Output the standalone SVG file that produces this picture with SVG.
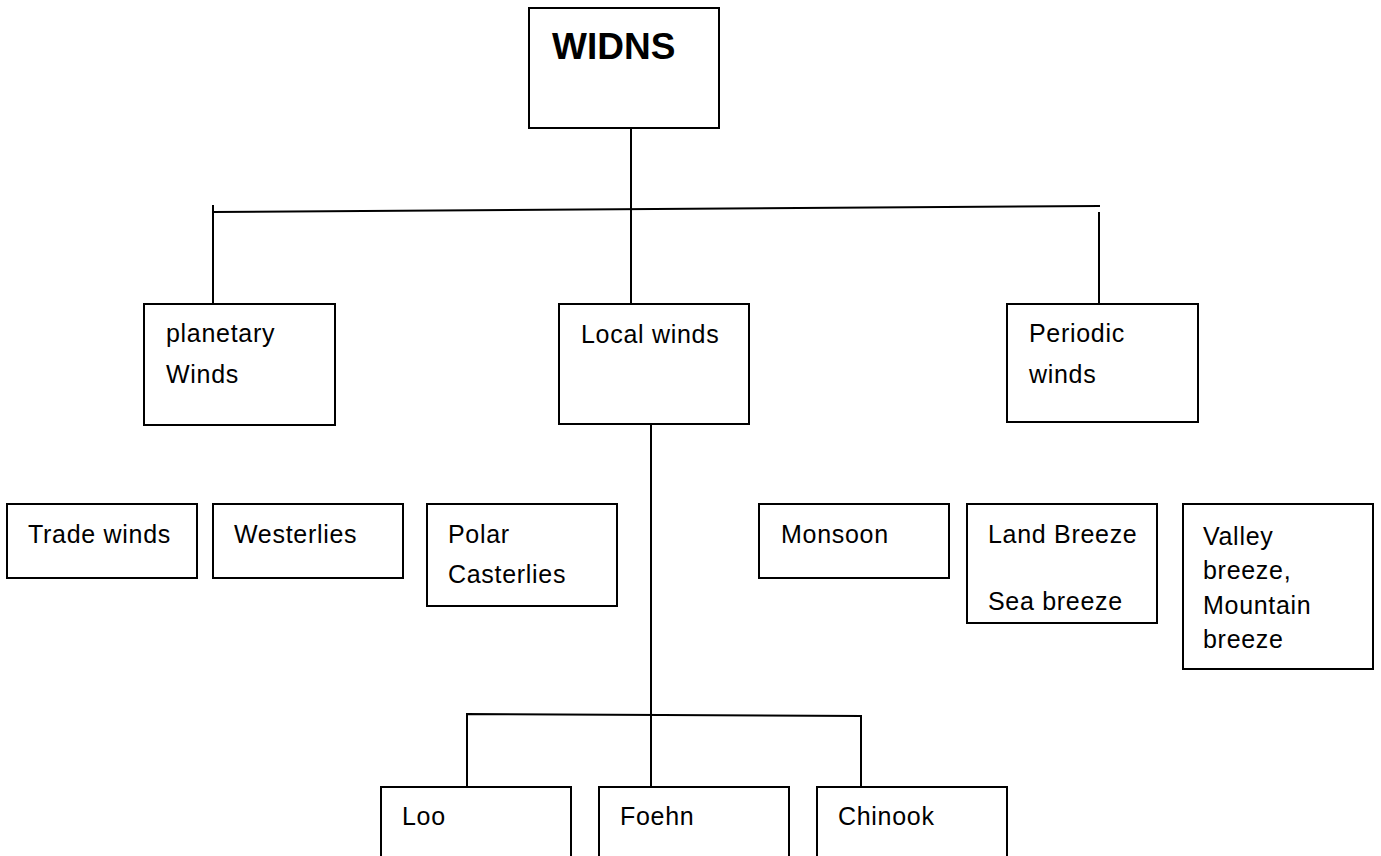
<svg xmlns="http://www.w3.org/2000/svg" width="1381" height="856" viewBox="0 0 1381 856">
<style>
.box{fill:#fff;stroke:#000;stroke-width:2}
.ln{fill:none;stroke:#000;stroke-width:2}
.t{font-family:"Liberation Sans",Arial,sans-serif;font-size:25px;fill:#000;letter-spacing:0.7px}
.h{font-family:"Liberation Sans",Arial,sans-serif;font-size:37px;font-weight:bold;fill:#000}
</style>
<rect width="1381" height="856" fill="#fff"/>
<g id="connectors">
<line class="ln" x1="631" y1="128" x2="631" y2="304"/>
<line class="ln" x1="213" y1="212" x2="1100" y2="206"/>
<line class="ln" x1="213" y1="205" x2="213" y2="304"/>
<line class="ln" x1="1099" y1="212" x2="1099" y2="310"/>
<line class="ln" x1="651" y1="424" x2="651" y2="787"/>
<polyline class="ln" points="467,787 467,714 861,716 861,787"/>
</g>
<g id="widns"><rect class="box" x="529" y="8" width="190" height="120"/><text class="h" x="552" y="59">WIDNS</text></g>
<g id="planetary"><rect class="box" x="144" y="304" width="191" height="121"/><text class="t" x="166" y="342">planetary</text><text class="t" x="166" y="383">Winds</text></g>
<g id="local"><rect class="box" x="559" y="304" width="190" height="120"/><text class="t" x="581" y="343">Local winds</text></g>
<g id="periodic"><rect class="box" x="1007" y="304" width="191" height="118"/><text class="t" x="1029" y="342">Periodic</text><text class="t" x="1029" y="383">winds</text></g>
<g id="trade"><rect class="box" x="7" y="504" width="190" height="74"/><text class="t" x="28" y="543">Trade winds</text></g>
<g id="westerlies"><rect class="box" x="213" y="504" width="190" height="74"/><text class="t" x="234" y="543">Westerlies</text></g>
<g id="polar"><rect class="box" x="427" y="504" width="190" height="102"/><text class="t" x="448" y="543">Polar</text><text class="t" x="448" y="583">Casterlies</text></g>
<g id="monsoon"><rect class="box" x="759" y="504" width="190" height="74"/><text class="t" x="781" y="543">Monsoon</text></g>
<g id="landsea"><rect class="box" x="967" y="504" width="190" height="119"/><text class="t" x="988" y="543">Land Breeze</text><text class="t" x="988" y="610">Sea breeze</text></g>
<g id="valley"><rect class="box" x="1183" y="504" width="190" height="165"/><text class="t" x="1203" y="545">Valley</text><text class="t" x="1203" y="579">breeze,</text><text class="t" x="1203" y="614">Mountain</text><text class="t" x="1203" y="648">breeze</text></g>
<g id="loo"><rect class="box" x="381" y="787" width="190" height="90"/><text class="t" x="402" y="825">Loo</text></g>
<g id="foehn"><rect class="box" x="599" y="787" width="190" height="90"/><text class="t" x="620" y="825">Foehn</text></g>
<g id="chinook"><rect class="box" x="817" y="787" width="190" height="90"/><text class="t" x="838" y="825">Chinook</text></g>
</svg>
